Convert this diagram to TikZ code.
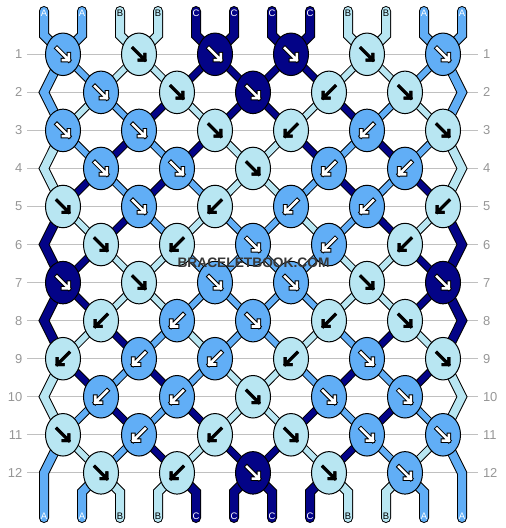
\documentclass[tikz,border=0pt]{standalone}
\usepackage{fontspec}
\setmainfont{Liberation Sans}
\usetikzlibrary{shapes.geometric}
\definecolor{colA}{RGB}{97,174,246}
\definecolor{colB}{RGB}{184,230,242}
\definecolor{colC}{RGB}{3,3,135}
\definecolor{gridgrey}{RGB}{192,192,192}
\definecolor{numgrey}{RGB}{150,150,150}
\definecolor{markgrey}{RGB}{55,55,55}
\begin{document}
\begin{tikzpicture}[x=1bp,y=-1bp,
  knot/.style={ellipse, draw=black, line width=1bp, minimum width=35bp, minimum height=42.5bp, inner sep=0pt, outer sep=0pt},
  seg/.style={line width=1bp, draw=black, double distance=5.8bp},
  edgeseg/.style={line width=1bp, draw=black, double distance=8bp},
  endseg/.style={edgeseg, line cap=round},
  gridline/.style={draw=gridgrey, line width=1bp},
  rownum/.style={text=numgrey, font=\fontsize{13}{14}\selectfont, inner sep=0pt, outer sep=0pt},
  strlabA/.style={text=white, font=\fontsize{9.5}{10}\selectfont, inner sep=0pt},
  strlabB/.style={text=black, font=\fontsize{9.5}{10}\selectfont, inner sep=0pt},
  strlabC/.style={strlabA},
  arroutA/.style={draw=black, line width=4.6bp, line cap=rect},
  arrinA/.style={draw=white, line width=2.6bp, line cap=rect},
  arroutC/.style={arroutA},
  arrinC/.style={arrinA},
  arroutB/.style={draw=black, line width=3bp, line cap=rect},
  arrinB/.style={arroutB},
  dirf/.style={},
  dirb/.style={xscale=-1},
  wmtext/.style={text=markgrey, font=\bfseries\fontsize{13.8}{15}\selectfont, inner sep=0pt}
]
\useasboundingbox (0,0) rectangle (506,528);

% position coordinates
\foreach \r in {1,...,12}{
  \foreach \p in {1,...,12}{
    \pgfmathsetmacro\yy{54.3+38.05*(\r-1)}
    \ifodd\r
      \pgfmathsetmacro\xx{63+76*floor((\p-1)/2)}
    \else
      \pgfmathsetmacro\xx{(\p==1) ? 44 : ((\p==12) ? 462 : 25+76*floor(\p/2))}
    \fi
    \coordinate (P-\r-\p) at (\xx,\yy);
  }
}
\foreach \p in {1,...,12}{
  \pgfmathsetmacro\xs{44+38*(\p-1)}
  \coordinate (T-\p) at (\xs,11);
  \coordinate (U-\p) at (\xs,35.3);
  \coordinate (D-\p) at (\xs,492);
  \coordinate (B-\p) at (\xs,518);
}

% grid lines and row numbers
\foreach \r in {1,...,12}{
  \pgfmathsetmacro\yy{54.3+38.05*(\r-1)}
  \coordinate (GL-\r) at (27,\yy);
  \coordinate (GR-\r) at (478,\yy);
  \draw[gridline] (GL-\r) -- (GR-\r);
  \node[rownum, anchor=east] (numL-\r) at (22.3,\yy) {\r};
  \node[rownum, anchor=west] (numR-\r) at (483,\yy) {\r};
}

% top ends
\foreach \c [count=\p] in {A,A,B,B,C,C,C,C,B,B,A,A}{
  \draw[endseg, double=col\c] (T-\p) -- (U-\p) -- (P-1-\p);
}

% inner segments
\foreach \r/\lst in {
  1/{A,A,B,B,C,C,C,C,B,B,A,A},
  2/{A,B,A,C,B,C,C,B,C,A,B,A},
  3/{B,A,C,A,C,B,B,C,A,C,A,B},
  4/{B,C,A,C,A,B,B,A,C,A,C,B},
  5/{C,B,C,A,B,A,A,B,A,C,B,C},
  6/{C,C,B,B,A,A,A,A,B,B,C,C},
  7/{C,C,B,B,A,A,A,A,B,B,C,C},
  8/{C,B,C,A,B,A,A,B,A,C,B,C},
  9/{B,C,A,C,A,B,B,A,C,A,C,B},
  10/{B,A,C,A,C,B,B,C,A,C,A,B},
  11/{A,B,A,C,B,C,C,B,C,A,B,A}}{
  \pgfmathtruncatemacro\rn{\r+1}
  \foreach \c [count=\p] in \lst {
    \ifnum\p=1\relax\else\ifnum\p=12\relax\else
      \draw[seg, double=col\c] (P-\r-\p) -- (P-\rn-\p);
    \fi\fi
  }
}

% edge strings
\foreach \r/\c in {1/A,3/B,5/C,7/C,9/B}{
  \pgfmathtruncatemacro\ra{\r+1}
  \pgfmathtruncatemacro\rb{\r+2}
  \draw[edgeseg, double=col\c] (P-\r-1) -- (P-\ra-1) -- (P-\rb-1);
  \draw[edgeseg, double=col\c] (P-\r-12) -- (P-\ra-12) -- (P-\rb-12);
}
\draw[endseg, double=colA] (P-11-1) -- (P-12-1) -- (B-1);
\draw[endseg, double=colA] (P-11-12) -- (P-12-12) -- (B-12);

% bottom ends
\foreach \c [count=\p] in {A,A,B,B,C,C,C,C,B,B,A,A}{
  \ifnum\p=1\relax\else\ifnum\p=12\relax\else
    \draw[endseg, double=col\c] (P-12-\p) -- (D-\p) -- (B-\p);
  \fi\fi
}

% knots
\foreach \r/\lst in {
  1/{A/f,B/f,C/f,C/f,B/f,A/f},
  2/{A/f,B/f,C/f,B/b,B/f},
  3/{A/f,A/f,B/f,B/b,A/b,B/f},
  4/{A/f,A/f,B/f,A/b,A/b},
  5/{B/f,A/f,B/b,A/b,A/b,B/b},
  6/{B/f,B/b,A/f,A/b,B/b},
  7/{C/f,B/f,A/f,A/f,B/f,C/f},
  8/{B/b,A/b,A/f,B/b,B/f},
  9/{B/b,A/b,A/b,B/b,A/f,B/f},
  10/{A/b,A/b,B/f,A/f,A/f},
  11/{B/f,A/b,B/b,B/f,A/f,A/f},
  12/{B/f,B/b,C/f,B/f,A/f}}{
  \foreach \c/\d [count=\i] in \lst {
    \ifodd\r
      \pgfmathtruncatemacro\pp{2*\i-1}
    \else
      \pgfmathtruncatemacro\pp{2*\i}
    \fi
    \node[knot, fill=col\c] (n-\r-\i) at (P-\r-\pp) {};
    \begin{scope}[shift={(n-\r-\i.center)}, dir\d]
      \draw[arrout\c] (-6,-6) -- (5.8,5.8) (0,5.8) -- (5.8,5.8) -- (5.8,0);
      \draw[arrin\c] (-6,-6) -- (5.8,5.8) (0,5.8) -- (5.8,5.8) -- (5.8,0);
    \end{scope}
  }
}

% string labels
\foreach \c [count=\p] in {A,A,B,B,C,C,C,C,B,B,A,A}{
  \pgfmathsetmacro\xs{44+38*(\p-1)}
  \node[strlab\c] (tl-\p) at (\xs,13) {\c};
  \node[strlab\c] (bl-\p) at (\xs,516) {\c};
}

% watermark
\node[wmtext] (wm) at (253.5,263) {BRACELETBOOK.COM};
\end{tikzpicture}
\end{document}
